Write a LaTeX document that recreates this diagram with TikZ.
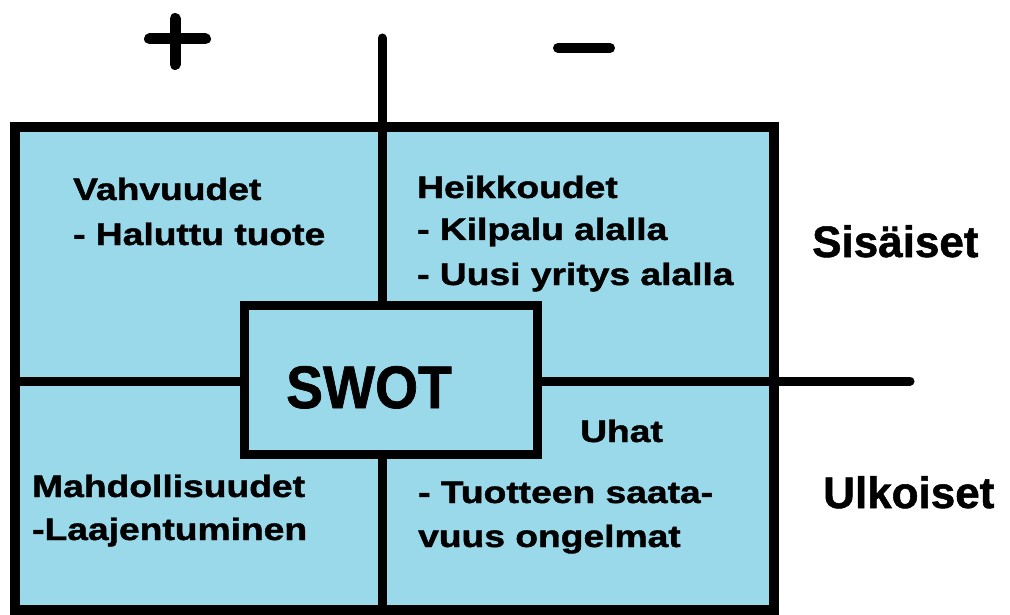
\documentclass[tikz,border=0pt]{standalone}
\usepackage{fontspec}
\setmainfont{Liberation Sans}[BoldFeatures={FakeBold=1.2}]
\definecolor{quad}{HTML}{99D9EA}
\newcommand{\stretchtxt}[1]{\scalebox{1.2}[1]{#1}}
\begin{document}
\begin{tikzpicture}[x=1pt,y=-1pt,
  box/.style={draw=black, fill=quad, line width=10pt, inner sep=0pt, outer sep=0pt},
  divider/.style={draw=black, line width=9pt},
  sign/.style={draw=black, line width=11pt, line cap=round},
  lbl/.style={anchor=base west, inner sep=0pt, font=\bfseries\fontsize{31}{31}\selectfont},
  side/.style={anchor=base west, inner sep=0pt, font=\bfseries\fontsize{44}{44}\selectfont}]
\useasboundingbox (0,0) rectangle (1010,615);
% frame
\node[box, minimum width=759pt, minimum height=482.5pt] (frame) at (394.5,368.75) {};
% dividers
\coordinate (vtop) at (382,38);
\coordinate (vbot) at (382,610);
\coordinate (hl) at (15,381);
\coordinate (hr) at (910,381);
\draw[divider, line cap=round] (vtop) -- (vbot);
\draw[divider, line cap=round] (hl) -- (hr);
% SWOT box
\node[box, line width=9pt, minimum width=293pt, minimum height=149pt] (swotbox) at (390.5,379.5) {};
\node[anchor=base west, inner sep=0pt, font=\bfseries\fontsize{60}{60}\selectfont] (swot) at (286,408) {\scalebox{0.92}[1]{SWOT}};
% plus and minus
\coordinate (ph1) at (149.5,39);
\coordinate (ph2) at (205.5,39);
\coordinate (pv1) at (175,18.5);
\coordinate (pv2) at (175,64.5);
\draw[sign] (ph1) -- (ph2);
\draw[sign] (pv1) -- (pv2);
\coordinate (m1) at (558,48);
\coordinate (m2) at (610,48);
\draw[sign, line width=10pt] (m1) -- (m2);
% quadrant texts
\node[lbl] (vah) at (73,200) {\stretchtxt{Vahvuudet}};
\node[lbl] (vah2) at (73,245) {\stretchtxt{- Haluttu tuote}};
\node[lbl] (hei) at (417,198) {\stretchtxt{Heikkoudet}};
\node[lbl] (hei2) at (417,240) {\stretchtxt{- Kilpalu alalla}};
\node[lbl] (hei3) at (417,285) {\stretchtxt{- Uusi yritys alalla}};
\node[lbl] (mah) at (32,497) {\stretchtxt{Mahdollisuudet}};
\node[lbl] (mah2) at (32,540) {\stretchtxt{-Laajentuminen}};
\node[lbl] (uha) at (580,442) {\stretchtxt{Uhat}};
\node[lbl] (uha2) at (418,503) {\stretchtxt{- Tuotteen saata-}};
\node[lbl] (uha3) at (418,547) {\stretchtxt{vuus ongelmat}};
% side labels
\node[side] (sis) at (812,257) {Sisäiset};
\node[side] (ulk) at (823,508) {Ulkoiset};
\end{tikzpicture}
\end{document}
